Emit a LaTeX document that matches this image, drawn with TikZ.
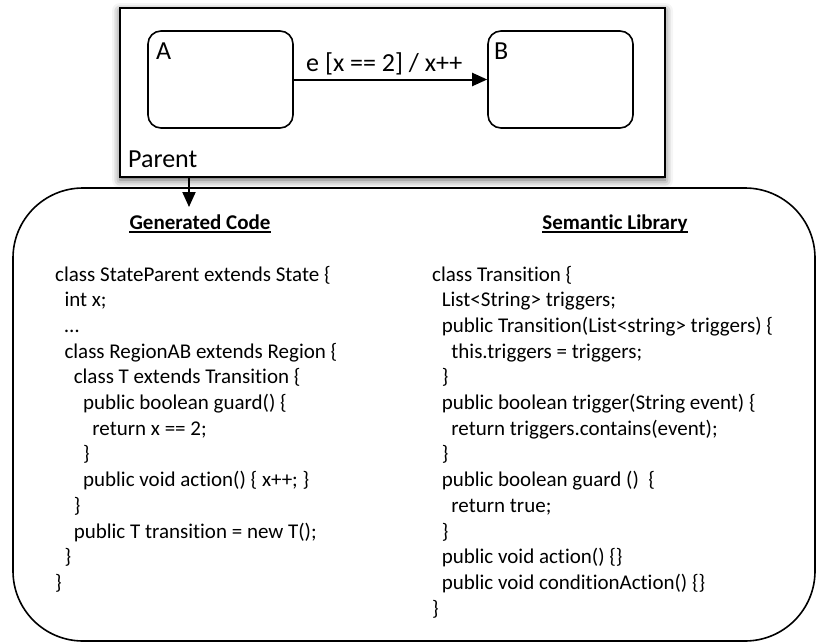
\documentclass[tikz,border=0pt]{standalone}
\usepackage{fontspec}
\setmainfont{Carlito}[Ligatures=CommonOff]
\usetikzlibrary{arrows.meta,shadows.blur}

\begin{document}
\begin{tikzpicture}[x=1pt,y=-1pt,
  codeline/.style={font=\fontsize{21}{25.7}\selectfont, inner sep=0pt, anchor=base west},
  heading/.style={font=\fontsize{21}{25.7}\selectfont\bfseries, inner sep=0pt, anchor=base},
  statelabel/.style={font=\fontsize{26}{31}\selectfont, inner sep=0pt, anchor=base west},
  statebox/.style={draw, line width=1.6pt, rounded corners=13pt, minimum width=145pt, minimum height=97pt, inner sep=0pt},
  flow/.style={line width=2pt, -{Triangle[length=15pt,width=13pt]}},
  underl/.style={line width=1.3pt}
]
\useasboundingbox (0,0) rectangle (817,643);

% composite state with its two substates
\node[draw, line width=2.2pt, fill=white, minimum width=545pt, minimum height=169pt, inner sep=0pt,
      blur shadow={shadow xshift=0pt, shadow yshift=-3pt, shadow blur radius=8pt, shadow opacity=65}]
      (parent) at (392.5,92.5) {};
\node[statebox] (A) at (220.5,79.5) {};
\node[statebox] (B) at (560.5,79.5) {};
\node[statelabel] (la) at (156,59) {A};
\node[statelabel] (lb) at (494,59) {B};
\node[statelabel] (lp) at (128,167) {Parent};
\node[statelabel] (lt) at (306,71) {e [x == 2] / x++};
\draw[flow] (A) -- (B);

% code area
\node[draw, line width=1.6pt, rounded corners=70pt, minimum width=802pt, minimum height=453pt, inner sep=0pt]
      (codebox) at (414,414.5) {};
\coordinate (gentip) at (189,207);
\draw[flow] (parent.south -| gentip) -- (gentip);

\node[heading] (hg) at (200,229) {Generated Code};
\draw[underl] ([yshift=-3pt]hg.base west) -- ([yshift=-3pt]hg.base east);
\node[heading] (hs) at (615,229) {Semantic Library};
\draw[underl] ([yshift=-3pt]hs.base west) -- ([yshift=-3pt]hs.base east);

\foreach \lvl/\txt [count=\i] in {
  0/{class StateParent extends State \{},
  1/{int x;},
  1/{…},
  1/{class RegionAB extends Region \{},
  2/{class T extends Transition \{},
  3/{public boolean guard() \{},
  4/{return x == 2;},
  3/{\}},
  3/{public void action() \{ x++; \}},
  2/{\}},
  2/{public T transition = new T();},
  1/{\}},
  0/{\}}}
  \node[codeline] (g\i) at (55+\lvl*9.3, 281+\i*25.7-25.7) {\txt};

\foreach \lvl/\txt [count=\i] in {
  0/{class Transition \{},
  1/{List<String> triggers;},
  1/{public Transition(List<string> triggers) \{},
  2/{this.triggers = triggers;},
  1/{\}},
  1/{public boolean trigger(String event) \{},
  2/{return triggers.contains(event);},
  1/{\}},
  1/{public boolean guard ()\ \ \{},
  2/{return true;},
  1/{\}},
  1/{public void action() \{\}},
  1/{public void conditionAction() \{\}},
  0/{\}}}
  \node[codeline] (s\i) at (432+\lvl*9.6, 281+\i*25.7-25.7) {\txt};
\end{tikzpicture}
\end{document}
